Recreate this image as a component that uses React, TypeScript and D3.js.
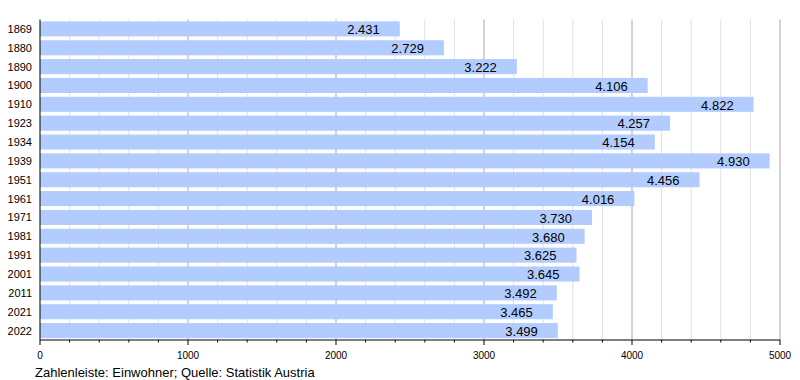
import React from "react";
import * as d3 from "d3";

const years = ["1869","1880","1890","1900","1910","1923","1934","1939","1951","1961","1971","1981","1991","2001","2011","2021","2022"];
const population = [2431,2729,3222,4106,4822,4257,4154,4930,4456,4016,3730,3680,3625,3645,3492,3465,3499];
const majorTicks = [0,1000,2000,3000,4000,5000];
const caption = "Zahlenleiste: Einwohner; Quelle: Statistik Austria";

export default function App() {
  const W = 800, H = 380;
  const left = 40, right = 780, top = 19.5, bottom = 340;
  const x = d3.scaleLinear().domain([0, 5000]).range([left, right]);
  const y = d3.scaleBand<string>().domain(years).range([top, bottom]).paddingInner(0.2).paddingOuter(0.1);
  const minor = d3.range(0, 5001, 200).filter((v) => v % 1000 !== 0);
  const fmt = (v: number) => d3.format(".3f")(v / 1000);
  const font = "'Liberation Sans', Arial, sans-serif";
  return (
    <svg width={W} height={H} style={{ position: "absolute", left: 0, top: 0, background: "#fff" }} fontFamily={font}>
      {minor.map((v) => (
        <line key={"m" + v} x1={x(v)} x2={x(v)} y1={top} y2={bottom} stroke="#e0e0e0" strokeWidth={1} />
      ))}
      {majorTicks.slice(1).map((v) => (
        <line key={"M" + v} x1={x(v)} x2={x(v)} y1={top} y2={bottom} stroke="#a8a8a8" strokeWidth={1} />
      ))}
      {years.map((yr, i) => (
        <g key={yr}>
          <rect x={x(0)} y={y(yr)!} width={x(population[i]) - x(0)} height={y.bandwidth()} fill="#b3ccff" />
          <text x={x(population[i]) - 20} y={y(yr)! + y.bandwidth() / 2} dy="0.4em" textAnchor="end" fontSize={13} fill="#000">
            {fmt(population[i])}
          </text>
          <text x={32} y={y(yr)! + y.bandwidth() / 2} dy="0.36em" textAnchor="end" fontSize={11} fill="#000">
            {yr}
          </text>
        </g>
      ))}
      <line x1={left} x2={left} y1={top} y2={bottom} stroke="#000" strokeWidth={1} />
      <line x1={left} x2={right} y1={bottom} y2={bottom} stroke="#000" strokeWidth={1} />
      {minor.map((v) => (
        <line key={"mt" + v} x1={x(v)} x2={x(v)} y1={bottom} y2={bottom + 2.5} stroke="#000" strokeWidth={1} />
      ))}
      {majorTicks.map((v) => (
        <g key={"t" + v}>
          <line x1={x(v)} x2={x(v)} y1={bottom} y2={bottom + 5} stroke="#000" strokeWidth={1} />
          <text x={x(v)} y={bottom + 19} textAnchor="middle" fontSize={10} fill="#000">{v}</text>
        </g>
      ))}
      <text x={35} y={377} fontSize={13} fill="#000">{caption}</text>
    </svg>
  );
}
